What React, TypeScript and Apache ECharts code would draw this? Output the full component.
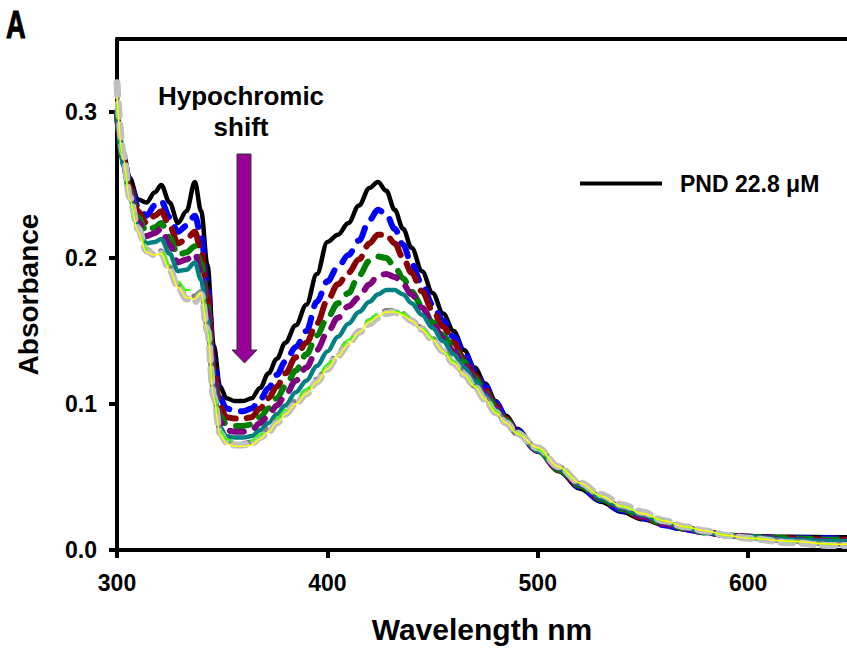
import React, { useEffect, useRef } from "react";
import * as echarts from "echarts";

const wavelengths = [
  300, 303, 306, 310, 314, 318, 321, 325, 329, 333,
  337, 340, 343, 346, 349, 352, 356, 360, 364, 368,
  372, 376, 380, 385, 390, 395, 400, 405, 410, 415,
  420, 424, 428, 432, 436, 440, 445, 450, 455, 460,
  465, 470, 475, 480, 485, 490, 500, 510, 520, 530,
  540, 550, 560, 570, 580, 590, 600, 620, 640, 650,
];

const pnd = [
  0.295, 0.272, 0.255, 0.240, 0.238, 0.245, 0.250, 0.238, 0.224, 0.232,
  0.252, 0.232, 0.195, 0.140, 0.112, 0.104, 0.102, 0.102, 0.104, 0.111,
  0.121, 0.131, 0.142, 0.154, 0.168, 0.189, 0.211, 0.216, 0.224, 0.236,
  0.248, 0.252, 0.246, 0.233, 0.220, 0.207, 0.191, 0.176, 0.162, 0.150,
  0.137, 0.125, 0.114, 0.102, 0.092, 0.083, 0.068, 0.054, 0.042, 0.033,
  0.026, 0.021, 0.017, 0.014, 0.012, 0.0105, 0.0095, 0.009, 0.0088, 0.0088,
];
const blue = [
  0.300, 0.270, 0.252, 0.235, 0.229, 0.236, 0.239, 0.228, 0.218, 0.222,
  0.229, 0.215, 0.182, 0.130, 0.104, 0.097, 0.095, 0.095, 0.097, 0.103,
  0.111, 0.120, 0.129, 0.139, 0.150, 0.170, 0.184, 0.194, 0.202, 0.212,
  0.226, 0.233, 0.230, 0.220, 0.209, 0.196, 0.182, 0.168, 0.157, 0.146,
  0.135, 0.123, 0.112, 0.101, 0.091, 0.082, 0.068, 0.055, 0.043, 0.034,
  0.027, 0.022, 0.017, 0.014, 0.012, 0.010, 0.009, 0.008, 0.008, 0.008,
];
const darkRed = [
  0.298, 0.268, 0.249, 0.232, 0.224, 0.229, 0.232, 0.222, 0.210, 0.213,
  0.218, 0.205, 0.175, 0.125, 0.098, 0.091, 0.090, 0.090, 0.091, 0.097,
  0.104, 0.112, 0.121, 0.132, 0.142, 0.155, 0.171, 0.182, 0.190, 0.199,
  0.210, 0.216, 0.216, 0.210, 0.200, 0.190, 0.177, 0.164, 0.153, 0.142,
  0.131, 0.120, 0.110, 0.099, 0.090, 0.081, 0.068, 0.055, 0.044, 0.035,
  0.028, 0.022, 0.018, 0.015, 0.012, 0.010, 0.009, 0.008, 0.007, 0.007,
];
const green = [
  0.298, 0.266, 0.246, 0.228, 0.218, 0.221, 0.224, 0.214, 0.202, 0.204,
  0.208, 0.196, 0.168, 0.120, 0.092, 0.086, 0.085, 0.085, 0.086, 0.091,
  0.097, 0.104, 0.112, 0.123, 0.134, 0.147, 0.159, 0.169, 0.176, 0.188,
  0.198, 0.201, 0.200, 0.194, 0.186, 0.177, 0.167, 0.156, 0.147, 0.138,
  0.129, 0.118, 0.108, 0.098, 0.089, 0.081, 0.068, 0.055, 0.044, 0.035,
  0.028, 0.023, 0.018, 0.015, 0.012, 0.010, 0.009, 0.008, 0.007, 0.007,
];
const purple = [
  0.300, 0.265, 0.244, 0.225, 0.215, 0.217, 0.220, 0.209, 0.197, 0.199,
  0.203, 0.190, 0.163, 0.116, 0.088, 0.082, 0.081, 0.081, 0.082, 0.087,
  0.092, 0.099, 0.106, 0.116, 0.125, 0.137, 0.149, 0.159, 0.167, 0.173,
  0.182, 0.188, 0.189, 0.187, 0.182, 0.175, 0.166, 0.155, 0.145, 0.136,
  0.127, 0.117, 0.107, 0.097, 0.088, 0.080, 0.068, 0.056, 0.045, 0.036,
  0.029, 0.023, 0.018, 0.015, 0.012, 0.010, 0.009, 0.007, 0.006, 0.006,
];
const teal = [
  0.300, 0.262, 0.241, 0.222, 0.210, 0.211, 0.213, 0.203, 0.191, 0.192,
  0.197, 0.185, 0.158, 0.112, 0.084, 0.078, 0.077, 0.077, 0.078, 0.082,
  0.087, 0.093, 0.099, 0.108, 0.116, 0.126, 0.136, 0.146, 0.155, 0.163,
  0.170, 0.175, 0.178, 0.178, 0.175, 0.169, 0.161, 0.152, 0.143, 0.134,
  0.125, 0.116, 0.106, 0.096, 0.088, 0.080, 0.068, 0.056, 0.045, 0.036,
  0.029, 0.024, 0.019, 0.015, 0.012, 0.010, 0.009, 0.007, 0.006, 0.006,
];
const darkGrey = [
  0.315, 0.270, 0.241, 0.220, 0.206, 0.203, 0.205, 0.194, 0.182, 0.175,
  0.174, 0.177, 0.152, 0.106, 0.081, 0.075, 0.073, 0.073, 0.074, 0.078,
  0.083, 0.089, 0.095, 0.102, 0.109, 0.117, 0.126, 0.135, 0.143, 0.150,
  0.157, 0.161, 0.164, 0.164, 0.162, 0.158, 0.152, 0.145, 0.137, 0.129,
  0.121, 0.112, 0.104, 0.095, 0.087, 0.080, 0.070, 0.057, 0.046, 0.037,
  0.030, 0.025, 0.020, 0.016, 0.013, 0.010, 0.008, 0.006, 0.004, 0.004,
];
const lightGrey = [
  0.320, 0.272, 0.242, 0.220, 0.205, 0.202, 0.203, 0.192, 0.180, 0.172,
  0.170, 0.175, 0.150, 0.105, 0.080, 0.074, 0.072, 0.072, 0.073, 0.077,
  0.081, 0.087, 0.093, 0.100, 0.107, 0.115, 0.124, 0.133, 0.141, 0.149,
  0.155, 0.159, 0.162, 0.163, 0.161, 0.157, 0.151, 0.144, 0.136, 0.128,
  0.120, 0.112, 0.103, 0.094, 0.087, 0.080, 0.070, 0.057, 0.046, 0.038,
  0.031, 0.026, 0.020, 0.016, 0.013, 0.010, 0.008, 0.005, 0.003, 0.003,
];
const lime = [
  0.305, 0.266, 0.240, 0.219, 0.206, 0.204, 0.206, 0.195, 0.184, 0.178,
  0.178, 0.178, 0.154, 0.108, 0.082, 0.076, 0.074, 0.074, 0.075, 0.079,
  0.084, 0.090, 0.096, 0.103, 0.110, 0.118, 0.127, 0.136, 0.144, 0.151,
  0.158, 0.162, 0.164, 0.164, 0.162, 0.158, 0.152, 0.145, 0.137, 0.129,
  0.121, 0.112, 0.104, 0.095, 0.087, 0.080, 0.069, 0.057, 0.046, 0.037,
  0.030, 0.025, 0.020, 0.016, 0.013, 0.010, 0.008, 0.006, 0.004, 0.004,
];
const yellow = [
  0.310, 0.268, 0.240, 0.218, 0.204, 0.202, 0.203, 0.192, 0.180, 0.173,
  0.172, 0.176, 0.150, 0.104, 0.079, 0.073, 0.071, 0.071, 0.072, 0.076,
  0.081, 0.087, 0.093, 0.100, 0.107, 0.115, 0.124, 0.133, 0.141, 0.149,
  0.156, 0.160, 0.163, 0.163, 0.161, 0.157, 0.151, 0.144, 0.136, 0.128,
  0.120, 0.112, 0.103, 0.094, 0.087, 0.080, 0.070, 0.057, 0.046, 0.037,
  0.030, 0.025, 0.020, 0.016, 0.013, 0.010, 0.008, 0.006, 0.004, 0.004,
];

const xTicks = [300, 400, 500, 600];
const yTicks = [0, 0.1, 0.2, 0.3];
const legendLabel = "PND 22.8 μM";

const FONT = "Arial";

const toPairs = (arr: number[]) => wavelengths.map((w, i) => [w, arr[i]]);

export default function App() {
  const ref = useRef<HTMLDivElement>(null);
  useEffect(() => {
    document.body.style.margin = "0";
    if (!ref.current) return;
    const chart = echarts.init(ref.current, undefined, { renderer: "svg" });

    const mk = (
      name: string,
      data: number[],
      color: string,
      width: number,
      type: any,
    ) => ({
      name,
      type: "line",
      data: toPairs(data),
      symbol: "none",
      smooth: 0.35,
      smoothMonotone: "x",
      lineStyle: { color, width, type, cap: "round", join: "round" },
      itemStyle: { color },
      emphasis: { disabled: true },
      silent: true,
    });

    const axisLineStyle = { color: "#000", width: 4 };
    const labelStyle = {
      color: "#000",
      fontSize: 23,
      fontWeight: "bold" as const,
      fontFamily: FONT,
    };

    chart.setOption({
      animation: false,
      backgroundColor: "#fff",
      grid: { left: 117, right: 0, top: 39, bottom: 96, containLabel: false },
      legend: {
        data: [{ name: legendLabel, icon: "rect" }],
        left: 575,
        top: 167,
        itemWidth: 82,
        itemHeight: 4,
        selectedMode: false,
        itemStyle: { color: "#000", borderWidth: 0 },
        lineStyle: { width: 0 },
        textStyle: {
          color: "#000",
          fontSize: 23,
          fontWeight: "bold",
          fontFamily: FONT,
          padding: [0, 0, 0, 13],
        },
      },
      xAxis: [
        {
          type: "value",
          min: 300,
          max: 647,
          position: "bottom",
          name: "Wavelength nm",
          nameLocation: "middle",
          nameGap: 64,
          nameTextStyle: {
            color: "#000",
            fontSize: 30,
            fontWeight: "bold",
            fontFamily: FONT,
          },
          axisLine: { show: true, onZero: false, lineStyle: axisLineStyle },
          axisTick: {
            show: true,
            inside: false,
            length: 8,
            lineStyle: { color: "#000", width: 4 },
            customValues: xTicks,
          },
          axisLabel: { ...labelStyle, margin: 21, customValues: xTicks },
          splitLine: { show: false },
        },
        {
          type: "value",
          min: 300,
          max: 647,
          position: "top",
          axisLine: { show: true, onZero: false, lineStyle: axisLineStyle },
          axisTick: { show: false },
          axisLabel: { show: false },
          splitLine: { show: false },
        },
      ],
      yAxis: {
        type: "value",
        min: 0,
        max: 0.35,
        name: "Absorbance",
        nameLocation: "middle",
        nameGap: 75,
        nameTextStyle: {
          color: "#000",
          fontSize: 28,
          fontWeight: "bold",
          fontFamily: FONT,
        },
        axisLine: { show: true, onZero: false, lineStyle: axisLineStyle },
        axisTick: {
          show: true,
          inside: false,
          length: 8,
          lineStyle: { color: "#000", width: 4 },
          customValues: yTicks,
        },
        axisLabel: {
          ...labelStyle,
          margin: 20,
          customValues: yTicks,
          formatter: (v: number) => v.toFixed(1),
        },
        splitLine: { show: false },
      },
      graphic: [
        {
          type: "text",
          x: 6,
          y: 6,
          scaleX: 0.72,
          style: {
            text: "A",
            fontSize: 38,
            fontWeight: 900,
            fontFamily: FONT,
            fill: "#000",
            stroke: "#000",
            lineWidth: 1,
            verticalAlign: "top",
          },
        },
        {
          type: "text",
          x: 241,
          y: 80,
          style: {
            text: "Hypochromic\nshift",
            fontSize: 26,
            fontWeight: "bold",
            fontFamily: FONT,
            fill: "#000",
            align: "center",
            verticalAlign: "top",
            lineHeight: 31,
          },
        },
        {
          type: "polygon",
          shape: {
            points: [
              [237, 154],
              [251, 154],
              [251, 350],
              [257, 350],
              [244.5, 363],
              [232, 350],
              [237, 350],
            ],
          },
          style: { fill: "#990099", stroke: "#333", lineWidth: 1 },
          z: 100,
        },
      ],
      series: [
        mk(legendLabel, pnd, "#000000", 4.5, "solid"),
        mk("s2", blue, "#0000FF", 6, [15, 12]),
        mk("s3", darkRed, "#8B0000", 6, [20, 11]),
        mk("s4", green, "#008000", 6, [14, 12]),
        mk("s5", purple, "#800080", 6, [14, 12]),
        mk("s6", teal, "#008080", 4.5, "solid"),
        mk("s7", darkGrey, "#808080", 5, [8, 12]),
        mk("s8", lightGrey, "#C0C0C0", 7, [12, 9]),
        mk("s9", lime, "#33FF00", 2, [14, 20]),
        mk("s10", yellow, "#FFFF00", 1.5, "solid"),
      ],
    });
    return () => chart.dispose();
  }, []);
  return (
    <div
      ref={ref}
      style={{ position: "absolute", left: 0, top: 0, width: 847, height: 649 }}
    />
  );
}
